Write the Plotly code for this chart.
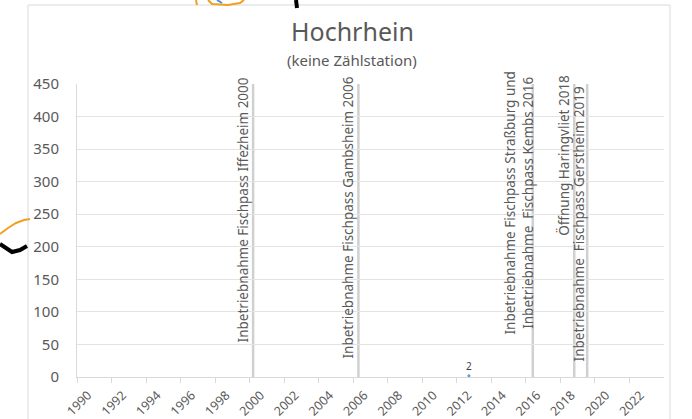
import plotly.graph_objects as go

# ---- data ----
years_ticks = list(range(1990, 2023, 2))
obs_years = [2012.7]
obs_values = [2]
event_years = [2000.2, 2006.3, 2016.4, 2018.8, 2019.55]
event_labels = [
    "Inbetriebnahme Fischpass Iffezheim 2000",
    "Inbetriebnahme Fischpass Gambsheim 2006",
    "Inbetriebnahme Fischpass Straßburg und<br>Inbetriebnahme  Fischpass Kembs 2016",
    "Öffnung Haringvliet 2018",
    "Inbetriebnahme  Fischpass Gerstheim 2019",
]
# label placement (year, value) for each event label
label_pos = [(1999.6, 257), (2005.7, 245), (2015.6, 268), (2018.2, 341), (2019.1, 235)]

W, H = 692, 419
L, R, T, B = 77, 28, 84, 42
pw, ph = W - L - R, H - T - B


def px(x, y):
    return (x - L) / pw, (H - B - y) / ph


TXT = "#595959"
FONT = "Noto Sans"

fig = go.Figure()
fig.add_trace(go.Scatter(
    x=obs_years, y=obs_values, mode="markers+text",
    marker=dict(size=3, color="#5b9bd5"),
    text=[str(v) for v in obs_values], textposition="top center",
    textfont=dict(size=10, color="#404040", family=FONT),
    showlegend=False, cliponaxis=False, hoverinfo="skip",
))

shapes = []
for yr in event_years:
    shapes.append(dict(type="line", xref="x", yref="y", x0=yr, x1=yr, y0=0, y1=450,
                       line=dict(color="#d0d0d0", width=2.5), layer="below"))

# outer chart border
x0, y0 = px(28, 425)
x1, y1 = px(670, 5)
shapes.append(dict(type="rect", xref="paper", yref="paper", x0=x0, x1=x1, y0=y0, y1=y1,
                   line=dict(color="#d9d9d9", width=1), layer="below"))


def path(points):
    s = ""
    for i, (a, b) in enumerate(points):
        u, v = px(a, b)
        s += ("M" if i == 0 else "L") + f"{u:.4f},{v:.4f} "
    return s


# clipped neighbouring artwork
shapes.append(dict(type="path", xref="paper", yref="paper",
                   path=path([(0, 234), (8, 228), (16, 223), (24, 220), (30, 219)]),
                   line=dict(color="#f0a020", width=2)))
shapes.append(dict(type="path", xref="paper", yref="paper",
                   path=path([(0, 244), (6, 248), (12, 252), (20, 250), (27, 246)]),
                   line=dict(color="black", width=4)))
shapes.append(dict(type="path", xref="paper", yref="paper",
                   path=path([(196, 0), (197, 5)]), line=dict(color="#f0a020", width=2)))
shapes.append(dict(type="path", xref="paper", yref="paper",
                   path=path([(208, 0), (212, 4), (228, 5), (240, 3), (244, 0)]),
                   line=dict(color="#f0a020", width=2)))
shapes.append(dict(type="path", xref="paper", yref="paper",
                   path=path([(217, 0), (222, 3)]), line=dict(color="#4a90e2", width=2)))
shapes.append(dict(type="path", xref="paper", yref="paper",
                   path=path([(296, 0), (297, 8)]), line=dict(color="black", width=4)))

annotations = []
for txt, (xa, ya) in zip(event_labels, label_pos):
    annotations.append(dict(x=xa, y=ya, xref="x", yref="y", text=txt, textangle=-90,
                            showarrow=False, xanchor="center", yanchor="middle",
                            font=dict(size=13.5, color=TXT, family=FONT)))
tx, ty = px(352, 31)
annotations.append(dict(x=tx, y=ty, xref="paper", yref="paper", text="Hochrhein",
                        showarrow=False, xanchor="center", yanchor="middle",
                        font=dict(size=25, color=TXT, family=FONT)))
sx, sy = px(352, 60)
annotations.append(dict(x=sx, y=sy, xref="paper", yref="paper", text="(keine Zählstation)",
                        showarrow=False, xanchor="center", yanchor="middle",
                        font=dict(size=15, color=TXT, family=FONT)))

fig.update_layout(
    width=W, height=H,
    margin=dict(l=L, r=R, t=T, b=B, pad=0),
    paper_bgcolor="white", plot_bgcolor="white",
    shapes=shapes, annotations=annotations,
    xaxis=dict(range=[1990, 2024], tickvals=years_ticks, ticktext=[str(y) for y in years_ticks],
               tickangle=-45, ticks="outside", ticklen=5, tickcolor="#d9d9d9",
               showgrid=False, zeroline=False, showline=True, linecolor="#d9d9d9",
               automargin=False, ticklabelshift=11, ticklabelstandoff=0,
               tickfont=dict(size=12.5, color=TXT, family=FONT)),
    yaxis=dict(range=[0, 450], dtick=50, tick0=0, showgrid=True, gridcolor="#e3e3e3",
               zeroline=False, showline=True, linecolor="#d9d9d9", ticks="",
               ticklabelstandoff=14, automargin=False,
               tickfont=dict(size=15, color=TXT, family=FONT)),
)

fig.write_html("out.html", config={"displayModeBar": False},
               post_script="document.body.style.margin='0';document.body.style.overflow='hidden';")
